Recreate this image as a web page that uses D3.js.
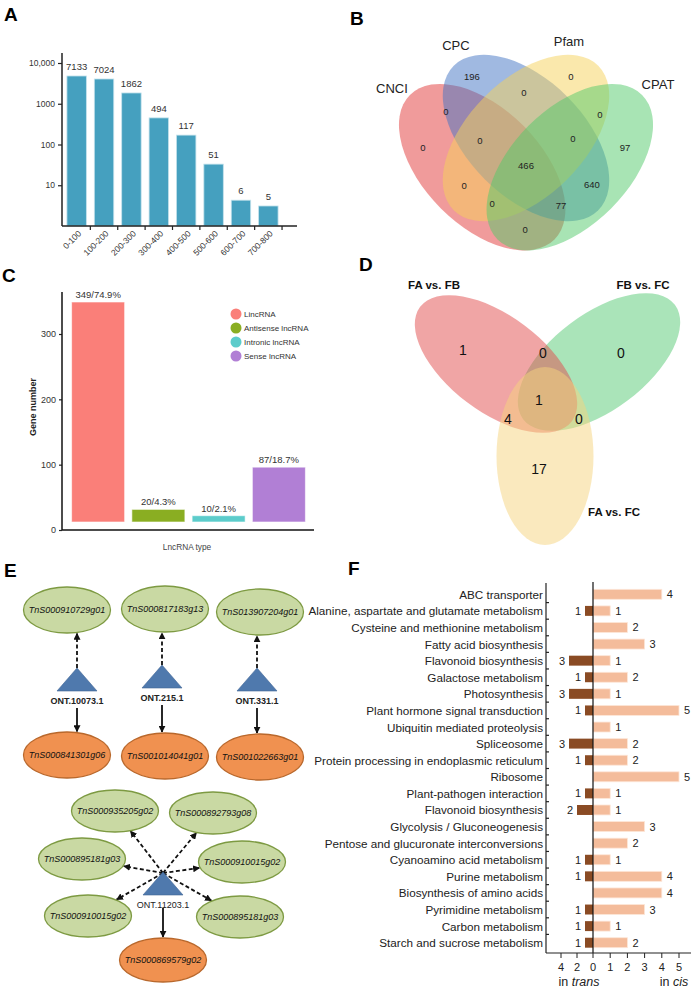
<!DOCTYPE html>
<html><head><meta charset="utf-8">
<script src="https://cdn.jsdelivr.net/npm/d3@7"></script>
<style>
body{margin:0;background:#fff}
svg{display:block;font-family:"Liberation Sans",Arial,sans-serif}
</style></head><body>
<svg id="fig" width="692" height="992"></svg>
<script>
// ================= DATA =================
// Panel A: length distribution (log scale)
const lengthBins = ["0-100","100-200","200-300","300-400","400-500","500-600","600-700","700-800"];
const lengthCounts = [7133,7024,1862,494,117,51,6,5];              // printed labels
const lengthBarHeights = [4800,4050,1840,450,170,33,4.3,3.1];      // bar heights as drawn
const lengthTicks = [10,100,1000,10000];
const lengthTickLabels = ["10","100","1000","10,000"];

// Panel B: 4-set Venn (CNCI, CPC, Pfam, CPAT)
const vennSets = ["CNCI","CPC","Pfam","CPAT"];
const vennColors = ["#e13737","#4173c3","#f5d159","#51c969"];
const vennCenters = [[0.35,0.47],[0.5,0.57],[0.5,0.57],[0.65,0.47]];
const vennRot = [45,45,-45,-45];
const vennSetLabelPos = [[0.041,0.738],[0.26,0.888],[0.647,0.902],[0.952,0.752]];
const vennRegionCounts = [196,0,0,0,0,0,0,0,97,466,0,640,0,77,0];
const vennRegionPos = [[0.315,0.779],[0.654,0.779],[0.493,0.724],[0.226,0.659],[0.753,0.652],
  [0.147,0.539],[0.342,0.563],[0.661,0.567],[0.839,0.539],[0.5,0.474],[0.288,0.406],
  [0.726,0.409],[0.384,0.347],[0.62,0.337],[0.497,0.258]];

// Panel C: lncRNA types
const lncTypes = ["LincRNA","Antisense lncRNA","Intronic lncRNA","Sense lncRNA"];
const lncCounts = [349,20,10,87];
const lncLabels = ["349/74.9%","20/4.3%","10/2.1%","87/18.7%"];
const lncColors = ["#fa7f79","#8aae22","#5ccccb","#b17fd5"];
const lncTicks = [0,100,200,300];

// Panel D: 3-set Venn
const degSets = ["FA vs. FB","FB vs. FC","FA vs. FC"];
const degColors = ["#e14b4b","#55c973","#f5d37d"];
const degRegionCounts = [1,0,0,1,4,0,17];
const degRegionPos = [[117,110],[197,113],[275,113],[193,160],[162,179],[233,179],[193,229]];
const degSetLabelPos = [[88,45],[297,45],[268,272]];

// Panel E: network
const netNodes = [
 {id:"g1",type:"target",label:"TnS000910729g01",x:67,y:50},
 {id:"g2",type:"target",label:"TnS000817183g13",x:165,y:49},
 {id:"g3",type:"target",label:"TnS013907204g01",x:260,y:52},
 {id:"t1",type:"lnc",label:"ONT.10073.1",x:77,y:131,bold:true},
 {id:"t2",type:"lnc",label:"ONT.215.1",x:162,y:128,bold:true},
 {id:"t3",type:"lnc",label:"ONT.331.1",x:257,y:131,bold:true},
 {id:"o1",type:"cis",label:"TnS000841301g06",x:67,y:195},
 {id:"o2",type:"cis",label:"TnS001014041g01",x:165,y:196},
 {id:"o3",type:"cis",label:"TnS001022663g01",x:260,y:197},
 {id:"g4",type:"target",label:"TnS000935205g02",x:115,y:251,ry:21},
 {id:"g5",type:"target",label:"TnS000892793g08",x:213,y:253,ry:21},
 {id:"g6",type:"target",label:"TnS000895181g03",x:82,y:299,ry:21},
 {id:"g7",type:"target",label:"TnS000910015g02",x:242,y:302,ry:21},
 {id:"g8",type:"target",label:"TnS000910015g02",x:88,y:356,ry:21},
 {id:"g9",type:"target",label:"TnS000895181g03",x:240,y:357,ry:21},
 {id:"t4",type:"lnc",label:"ONT.11203.1",x:163,y:335,bold:false},
 {id:"o4",type:"cis",label:"TnS000869579g02",x:163,y:400,ry:22}
];
const netLinks = [
 {s:"t1",t:"g1",kind:"trans"},{s:"t2",t:"g2",kind:"trans"},{s:"t3",t:"g3",kind:"trans"},
 {s:"t1",t:"o1",kind:"cis"},{s:"t2",t:"o2",kind:"cis"},{s:"t3",t:"o3",kind:"cis"},
 {s:"t4",t:"g4",kind:"trans"},{s:"t4",t:"g5",kind:"trans"},{s:"t4",t:"g6",kind:"trans"},
 {s:"t4",t:"g7",kind:"trans"},{s:"t4",t:"g8",kind:"trans"},{s:"t4",t:"g9",kind:"trans"},
 {s:"t4",t:"o4",kind:"cis"}
];

// Panel F: KEGG pathways
const pathways = ["ABC transporter","Alanine, aspartate and glutamate metabolism","Cysteine and methionine metabolism",
 "Fatty acid biosynthesis","Flavonoid biosynthesis","Galactose metabolism","Photosynthesis",
 "Plant hormone signal transduction","Ubiquitin mediated proteolysis","Spliceosome",
 "Protein processing in endoplasmic reticulum","Ribosome","Plant-pathogen interaction",
 "Flavonoid biosynthesis","Glycolysis / Gluconeogenesis","Pentose and glucuronate interconversions",
 "Cyanoamino acid metabolism","Purine metabolism","Biosynthesis of amino acids","Pyrimidine metabolism",
 "Carbon metabolism","Starch and sucrose metabolism"];
const transCounts = [0,1,0,0,3,1,3,1,0,3,1,0,1,2,0,0,1,1,0,1,1,1];
const cisCounts   = [4,1,2,3,1,2,1,5,1,2,2,5,1,1,3,2,1,4,4,3,1,2];
const transTicks = [4,2];
const cisTicks = [0,1,2,3,4,5];

// ================= DRAW =================
const svg = d3.select("#fig");
const panelLetters = [["A",4,21],["B",350,25],["C",2,282],["D",359,271],["E",4,577],["F",348,575]];
svg.selectAll("text.pl").data(panelLetters).join("text").attr("class","pl")
  .attr("x",d=>d[1]).attr("y",d=>d[2]).text(d=>d[0])
  .attr("font-size",19).attr("font-weight","bold").attr("fill","#000");

// ---------- A ----------
{
 const g = svg.append("g");
 const x = d3.scaleBand().domain(lengthBins).range([62,283]).paddingInner(0.29).paddingOuter(0.18);
 const y = d3.scaleLog().domain([1,10000]).range([226,63]);
 g.selectAll("rect").data(lengthBins).join("rect")
  .attr("x",d=>x(d)).attr("width",x.bandwidth())
  .attr("y",(d,i)=>y(lengthBarHeights[i])).attr("height",(d,i)=>y(1)-y(lengthBarHeights[i]))
  .attr("fill","#45a0bf").attr("stroke","#c4e2ec").attr("stroke-width",0.8);
 g.selectAll("text.v").data(lengthBins).join("text").attr("class","v")
  .attr("x",d=>x(d)+x.bandwidth()/2).attr("y",(d,i)=>y(lengthBarHeights[i])-6)
  .attr("text-anchor","middle").attr("font-size",9.5).attr("fill","#333").text((d,i)=>lengthCounts[i]);
 const ya = g.append("g").attr("transform","translate(62,0)")
  .call(d3.axisLeft(y).tickValues(lengthTicks).tickFormat((d,i)=>lengthTickLabels[i]).tickSize(4).tickSizeOuter(0));
 ya.select(".domain").remove();
 ya.selectAll("line").attr("stroke","#222").attr("stroke-width",1.2);
 ya.selectAll("text").attr("font-size",8.5).attr("fill","#333").attr("font-family","Liberation Sans, Arial");
 g.append("line").attr("x1",62).attr("x2",62).attr("y1",53).attr("y2",y(1)).attr("stroke","#222").attr("stroke-width",1.5);
 g.append("line").attr("x1",62).attr("x2",297).attr("y1",y(1)).attr("y2",y(1)).attr("stroke","#222").attr("stroke-width",1.5);
 const step = x.step();
 g.selectAll("line.xt").data(lengthBins).join("line").attr("class","xt")
  .attr("x1",d=>x(d)+x.bandwidth()+step*0.145).attr("x2",d=>x(d)+x.bandwidth()+step*0.145)
  .attr("y1",y(1)).attr("y2",y(1)+4).attr("stroke","#222").attr("stroke-width",1.2);
 g.selectAll("text.xl").data(lengthBins).join("text").attr("class","xl")
  .attr("transform",d=>`translate(${x(d)+x.bandwidth()/2+3},${y(1)+6}) rotate(-45)`)
  .attr("text-anchor","end").attr("dominant-baseline","central").attr("font-size",8.5).attr("fill","#333").text(d=>d);
}

// ---------- B ----------
{
 const g = svg.append("g");
 const u = d3.scaleLinear().domain([0,1]).range([380,672]);
 const v = d3.scaleLinear().domain([0,1]).range([304.4,12.4]);
 const k = u(1)-u(0);
 g.selectAll("ellipse").data(vennSets).join("ellipse")
  .attr("cx",(d,i)=>u(vennCenters[i][0])).attr("cy",(d,i)=>v(vennCenters[i][1]))
  .attr("rx",0.35*k).attr("ry",0.2*k)
  .attr("transform",(d,i)=>`rotate(${vennRot[i]},${u(vennCenters[i][0])},${v(vennCenters[i][1])})`)
  .attr("fill",(d,i)=>vennColors[i]).attr("fill-opacity",0.5);
 g.selectAll("text.s").data(vennSets).join("text").attr("class","s")
  .attr("x",(d,i)=>u(vennSetLabelPos[i][0])).attr("y",(d,i)=>v(vennSetLabelPos[i][1]))
  .attr("text-anchor","middle").attr("dominant-baseline","central").attr("font-size",13).attr("fill","#222").text(d=>d);
 g.selectAll("text.r").data(vennRegionCounts).join("text").attr("class","r")
  .attr("x",(d,i)=>u(vennRegionPos[i][0])).attr("y",(d,i)=>v(vennRegionPos[i][1]))
  .attr("text-anchor","middle").attr("dominant-baseline","central").attr("font-size",9.5).attr("fill","#222").text(d=>d);
}

// ---------- C ----------
{
 const g = svg.append("g");
 const x = d3.scaleBand().domain(lncTypes).range([68,309]).paddingInner(0.12).paddingOuter(0.06);
 const yBar = d3.scaleLinear().domain([0,349]).range([522,302]);
 const yAx = d3.scaleLinear().domain([0,300]).range([530,334]);
 g.selectAll("rect").data(lncTypes).join("rect")
  .attr("x",d=>x(d)).attr("width",x.bandwidth())
  .attr("y",(d,i)=>yBar(lncCounts[i])).attr("height",(d,i)=>yBar(0)-yBar(lncCounts[i]))
  .attr("fill",(d,i)=>lncColors[i]).attr("stroke","#fff").attr("stroke-opacity",0.6).attr("stroke-width",1);
 g.selectAll("text.v").data(lncTypes).join("text").attr("class","v")
  .attr("x",d=>x(d)+x.bandwidth()/2).attr("y",(d,i)=>yBar(lncCounts[i])-4)
  .attr("text-anchor","middle").attr("font-size",9.5).attr("fill","#333").text((d,i)=>lncLabels[i]);
 const ya = g.append("g").attr("transform","translate(62,0)")
  .call(d3.axisLeft(yAx).tickValues(lncTicks).tickSize(3).tickSizeOuter(0));
 ya.select(".domain").remove();
 ya.selectAll("line").attr("stroke","#222").attr("stroke-width",1.2);
 ya.selectAll("text").attr("font-size",9).attr("fill","#333").attr("font-family","Liberation Sans, Arial");
 g.append("line").attr("x1",62).attr("x2",62).attr("y1",292).attr("y2",yAx(0)).attr("stroke","#111").attr("stroke-width",1.5);
 g.append("line").attr("x1",62).attr("x2",314).attr("y1",yAx(0)).attr("y2",yAx(0)).attr("stroke","#111").attr("stroke-width",1.5);
 g.append("text").attr("transform","translate(33,407) rotate(-90)").attr("text-anchor","middle")
  .attr("dominant-baseline","central").attr("font-size",9).attr("font-weight","bold").attr("fill","#222").text("Gene number");
 g.append("text").attr("x",187).attr("y",547).attr("text-anchor","middle").attr("dominant-baseline","central")
  .attr("font-size",8.3).attr("fill","#444").text("LncRNA type");
 const leg = g.selectAll("g.leg").data(lncTypes).join("g").attr("class","leg")
  .attr("transform",(d,i)=>`translate(236,${314+i*14})`);
 leg.append("circle").attr("r",5.5).attr("fill",(d,i)=>lncColors[i]);
 leg.append("text").attr("x",8).attr("dominant-baseline","central").attr("font-size",8).attr("fill","#333").text(d=>d);
}

// ---------- D ----------
{
 const g = svg.append("g");
 const x = d3.scaleLinear().domain([0,346]).range([346,692]);
 const y = d3.scaleLinear().domain([0,320]).range([240,560]);
 const ells = [
  {i:1,cx:253,cy:122,rx:95,ry:48,rot:-37},
  {i:0,cx:150,cy:124,rx:95,ry:48,rot:37},
  {i:2,cx:199,cy:216,rx:48.5,ry:89,rot:0}
 ];
 g.selectAll("ellipse").data(ells).join("ellipse")
  .attr("cx",d=>x(d.cx)).attr("cy",d=>y(d.cy)).attr("rx",d=>d.rx).attr("ry",d=>d.ry)
  .attr("transform",d=>`rotate(${d.rot},${x(d.cx)},${y(d.cy)})`)
  .attr("fill",d=>degColors[d.i]).attr("fill-opacity",0.5);
 g.selectAll("text.r").data(degRegionCounts).join("text").attr("class","r")
  .attr("x",(d,i)=>x(degRegionPos[i][0])).attr("y",(d,i)=>y(degRegionPos[i][1]))
  .attr("text-anchor","middle").attr("dominant-baseline","central").attr("font-size",14).attr("fill","#111").text(d=>d);
 g.selectAll("text.s").data(degSets).join("text").attr("class","s")
  .attr("x",(d,i)=>x(degSetLabelPos[i][0])).attr("y",(d,i)=>y(degSetLabelPos[i][1]))
  .attr("text-anchor","middle").attr("dominant-baseline","central").attr("font-size",11.5).attr("font-weight","bold")
  .attr("fill","#111").text(d=>d);
}

// ---------- E ----------
{
 const g = svg.append("g");
 const x = d3.scaleLinear().domain([0,346]).range([0,346]);
 const y = d3.scaleLinear().domain([0,432]).range([560,992]);
 const defs = svg.append("defs");
 defs.append("marker").attr("id","ah").attr("viewBox","0 0 10 10").attr("refX",9).attr("refY",5)
  .attr("markerWidth",7).attr("markerHeight",7).attr("markerUnits","userSpaceOnUse").attr("orient","auto")
  .append("path").attr("d","M0,0L10,5L0,10z").attr("fill","#111");
 const byId = new Map(netNodes.map(n=>[n.id,n]));
 const RX = 43.5;
 const ryOf = n => n.ry || 23;
 const TRI_H = 23, TRI_W = 40;
 // links
 netLinks.forEach(l=>{
  const s = byId.get(l.s), t = byId.get(l.t);
  const ry = ryOf(t);
  let x1,y1,x2,y2;
  if (l.s !== "t4") {
   x1 = x(s.x); x2 = x1;
   const dx = (s.x - t.x)/RX;
   const h = ry*Math.sqrt(Math.max(0,1-dx*dx));
   if (l.kind==="trans") { y1 = y(s.y-TRI_H); y2 = y(t.y + h) + 1; }
   else { y1 = y(s.y+17); y2 = y(t.y - h) - 1; }
  } else {
   if (l.kind==="cis") { x1 = x(s.x); x2=x1; y1 = y(s.y+13); y2 = y(t.y-ryOf(t))-1; }
   else {
    const px = s.x, py = s.y - TRI_H + 1;
    const dx = px - t.x, dy = py - t.y;
    const tt = 1/Math.sqrt((dx/RX)**2 + (dy/ry)**2);
    x1 = x(px); y1 = y(py);
    x2 = x(t.x + dx*tt*1.02); y2 = y(t.y + dy*tt*1.02);
   }
  }
  g.append("line").attr("x1",x1).attr("y1",y1).attr("x2",x2).attr("y2",y2)
   .attr("stroke","#111").attr("stroke-width",1.8)
   .attr("stroke-dasharray",l.kind==="trans"?"4,2.5":null).attr("marker-end","url(#ah)");
 });
 const ell = netNodes.filter(n=>n.type!=="lnc");
 g.selectAll("ellipse").data(ell).join("ellipse")
  .attr("cx",d=>x(d.x)).attr("cy",d=>y(d.y)).attr("rx",RX).attr("ry",d=>ryOf(d))
  .attr("fill",d=>d.type==="cis"?"#f09150":"#c9d9a3")
  .attr("stroke",d=>d.type==="cis"?"#b9682c":"#7d9a42").attr("stroke-width",1.3);
 g.selectAll("text.n").data(ell).join("text").attr("class","n")
  .attr("x",d=>x(d.x)).attr("y",d=>y(d.y)).attr("text-anchor","middle").attr("dominant-baseline","central")
  .attr("font-size",9).attr("font-style","italic").attr("fill","#111").text(d=>d.label);
 const tri = netNodes.filter(n=>n.type==="lnc");
 g.selectAll("path.tri").data(tri).join("path").attr("class","tri")
  .attr("d",d=>`M${x(d.x)},${y(d.y-TRI_H)}L${x(d.x)+TRI_W/2},${y(d.y)}L${x(d.x)-TRI_W/2},${y(d.y)}Z`)
  .attr("fill","#4f79ad").attr("stroke","#3f6596").attr("stroke-width",0.6);
 g.selectAll("text.t").data(tri).join("text").attr("class","t")
  .attr("x",d=>x(d.x)).attr("y",d=>y(d.y+9.5)).attr("text-anchor","middle").attr("dominant-baseline","central")
  .attr("font-size",9).attr("font-weight",d=>d.bold?"bold":"normal").attr("fill","#222").text(d=>d.label);
}

// ---------- F ----------
{
 const g = svg.append("g");
 const idx = d3.range(pathways.length);
 const y = d3.scaleBand().domain(idx).range([586,951]).paddingInner(0.4).paddingOuter(0.2);
 const xT = d3.scaleLinear().domain([0,4]).range([593,561]);
 const xC = d3.scaleLinear().domain([0,5]).range([593,679]);
 const base = 953;
 g.selectAll("rect.c").data(idx).join("rect").attr("class","c")
  .attr("x",xC(0)).attr("y",i=>y(i)).attr("height",y.bandwidth())
  .attr("width",i=>xC(cisCounts[i])-xC(0)).attr("fill","#f4bc9b").attr("stroke","#fde6d8").attr("stroke-width",0.8);
 g.selectAll("rect.t").data(idx.filter(i=>transCounts[i]>0)).join("rect").attr("class","t")
  .attr("x",i=>xT(transCounts[i])).attr("y",i=>y(i)).attr("height",y.bandwidth())
  .attr("width",i=>xT(0)-xT(transCounts[i])).attr("fill","#8a4b24");
 g.selectAll("text.cv").data(idx.filter(i=>cisCounts[i]>0)).join("text").attr("class","cv")
  .attr("x",i=>xC(cisCounts[i])+5).attr("y",i=>y(i)+y.bandwidth()/2).attr("dominant-baseline","central")
  .attr("font-size",11).attr("fill","#222").text(i=>cisCounts[i]);
 g.selectAll("text.tv").data(idx.filter(i=>transCounts[i]>0)).join("text").attr("class","tv")
  .attr("x",i=>xT(transCounts[i])-4).attr("y",i=>y(i)+y.bandwidth()/2).attr("dominant-baseline","central")
  .attr("text-anchor","end").attr("font-size",11).attr("fill","#222").text(i=>transCounts[i]);
 g.selectAll("text.cat").data(idx).join("text").attr("class","cat")
  .attr("x",543).attr("y",i=>y(i)+y.bandwidth()/2).attr("dominant-baseline","central").attr("text-anchor","end")
  .attr("font-family","'Liberation Sans Narrow','Arial Narrow',sans-serif").attr("font-size",11.7).attr("fill","#222")
  .text(i=>pathways[i]);
 // axes
 g.append("line").attr("x1",546).attr("x2",546).attr("y1",583).attr("y2",base).attr("stroke","#222").attr("stroke-width",1.2);
 g.append("line").attr("x1",xT(0)).attr("x2",xT(0)).attr("y1",582).attr("y2",base).attr("stroke","#111").attr("stroke-width",1.2);
 g.append("line").attr("x1",546).attr("x2",691).attr("y1",base).attr("y2",base).attr("stroke","#222").attr("stroke-width",1.2);
 g.selectAll("line.yt").data(idx.slice(1)).join("line").attr("class","yt")
  .attr("x1",546).attr("x2",549).attr("y1",i=>y(i)-y.step()*0.2).attr("y2",i=>y(i)-y.step()*0.2)
  .attr("stroke","#222").attr("stroke-width",1.2);
 const ticks = transTicks.map(v=>({v,x:xT(v)})).concat(cisTicks.map(v=>({v,x:xC(v)})));
 g.selectAll("line.xt").data(ticks).join("line").attr("class","xt")
  .attr("x1",d=>d.x).attr("x2",d=>d.x).attr("y1",base).attr("y2",base+5).attr("stroke","#222").attr("stroke-width",1);
 g.selectAll("text.xl").data(ticks).join("text").attr("class","xl")
  .attr("x",d=>d.x).attr("y",967).attr("text-anchor","middle").attr("dominant-baseline","central")
  .attr("font-size",11).attr("fill","#222").text(d=>d.v);
 const t1 = g.append("text").attr("x",579).attr("y",982).attr("text-anchor","middle").attr("dominant-baseline","central")
  .attr("font-size",12.5).attr("fill","#222");
 t1.append("tspan").text("in ");
 t1.append("tspan").attr("font-style","italic").text("trans");
 const t2 = g.append("text").attr("x",674).attr("y",982).attr("text-anchor","middle").attr("dominant-baseline","central")
  .attr("font-size",12.5).attr("fill","#222");
 t2.append("tspan").text("in ");
 t2.append("tspan").attr("font-style","italic").text("cis");
}
</script>
</body></html>
